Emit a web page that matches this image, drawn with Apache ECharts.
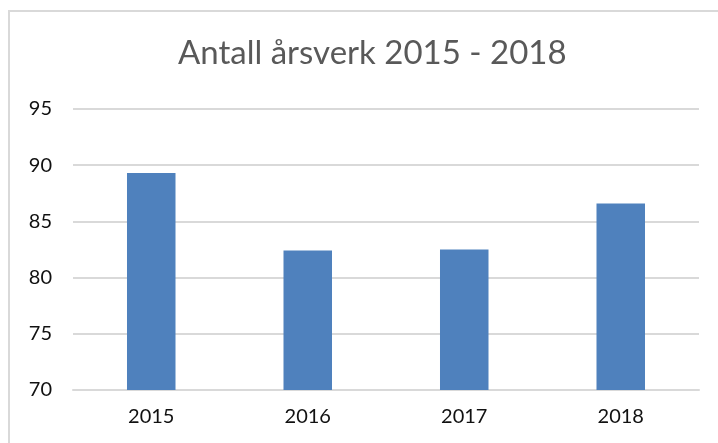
<!DOCTYPE html>
<html>
<head>
<meta charset="utf-8">
<script src="https://cdn.jsdelivr.net/npm/echarts@6/dist/echarts.min.js"></script>
<style>
  html, body { margin: 0; padding: 0; background: #fff; }
  #chart { width: 718px; height: 443px; }
</style>
</head>
<body>
<div id="chart"></div>
<script>
// data
var years = ['2015', '2016', '2017', '2018'];
var aarsverk = [89.3, 82.4, 82.5, 86.6];

var chart = echarts.init(document.getElementById('chart'));
var option = {
    animation: false,
    backgroundColor: '#fff',
    title: {
        text: 'Antall årsverk 2015 - 2018',
        left: 173,
        top: 32,
        textStyle: { fontFamily: 'Lato', fontSize: 33, fontWeight: 'normal', color: '#595959' }
    },
    grid: { left: 73, right: 19, top: 109, bottom: 53 },
    xAxis: {
        type: 'category',
        data: years,
        axisLine: { lineStyle: { color: '#d9d9d9', width: 2 } },
        axisTick: { show: false },
        axisLabel: { fontFamily: 'Lato', fontSize: 20, color: '#111', margin: 17 }
    },
    yAxis: {
        type: 'value',
        min: 70,
        max: 95,
        interval: 5,
        axisLine: { show: false },
        axisTick: { show: false },
        splitLine: { lineStyle: { color: '#d9d9d9', width: 2 } },
        axisLabel: { fontFamily: 'Lato', fontSize: 20, color: '#111', margin: 21 }
    },
    series: [{
        type: 'bar',
        data: aarsverk,
        barWidth: '31%',
        itemStyle: { color: '#4f81bd' }
    }],
    graphic: [{
        type: 'rect',
        shape: { x: 9, y: 11, width: 760, height: 500 },
        style: { fill: null, stroke: '#d9d9d9', lineWidth: 2 },
        silent: true
    }]
};
chart.setOption(option);
</script>
</body>
</html>
